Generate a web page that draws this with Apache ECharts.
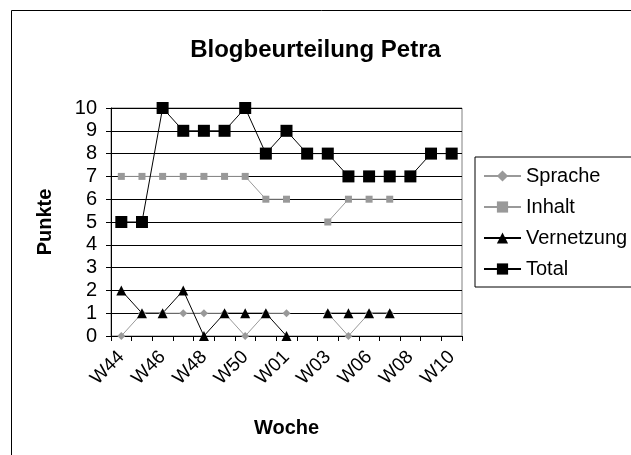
<!DOCTYPE html>
<html>
<head>
<meta charset="utf-8">
<script src="https://cdn.jsdelivr.net/npm/echarts@6/dist/echarts.min.js"></script>
<style>
html,body{margin:0;padding:0;background:#fff;}
#main{width:631px;height:455px;}
</style>
</head>
<body>
<div id="main"></div>
<script>
var weeks = ['W44','W45','W46','W47','W48','W49','W50','W52','W01','W02','W03','W04','W06','W07','W08','W09','W10'];
var sprache = [0, 1, 1, 1, 1, 1, 0, 1, 1, null, 1, 0, 1, 1, null, null, null];
var inhalt = [7, 7, 7, 7, 7, 7, 7, 6, 6, null, 5, 6, 6, 6, null, null, null];
var vernetzung = [2, 1, 1, 2, 0, 1, 1, 1, 0, null, 1, 1, 1, 1, null, null, null];
var total = [5, 5, 10, 9, 9, 9, 10, 8, 9, 8, 8, 7, 7, 7, 7, 8, 8];

window.onload = function () {
    var chart = echarts.init(document.getElementById('main'));
    var font = 'Liberation Sans, Arial, sans-serif';
    chart.setOption({
        animation: false,
        textStyle: { fontFamily: font },
        title: {
            text: 'Blogbeurteilung Petra',
            left: 'center',
            top: 33,
            textStyle: { fontSize: 24, fontWeight: 'bold', color: '#000', fontFamily: font }
        },
        graphic: [{
            type: 'rect',
            shape: { x: 11.5, y: 10.5, width: 640, height: 460 },
            style: { fill: 'none', stroke: '#000', lineWidth: 1 },
            silent: true
        }],
        grid: {
            left: 111, right: 169, top: 108, bottom: 119,
            show: true, borderColor: '#808080', borderWidth: 1
        },
        legend: {
            orient: 'vertical',
            left: 475, top: 157,
            width: 156,
            padding: [9, 40, 8, 8],
            borderColor: '#000', borderWidth: 1,
            itemWidth: 37, itemHeight: 14, itemGap: 11,
            textStyle: { fontSize: 20, color: '#000', fontFamily: font },
            data: ['Sprache', 'Inhalt', 'Vernetzung', 'Total']
        },
        xAxis: {
            type: 'category',
            data: weeks,
            boundaryGap: true,
            name: 'Woche',
            nameLocation: 'middle',
            nameGap: 82,
            nameTextStyle: { fontSize: 20, fontWeight: 'bold', color: '#000', fontFamily: font },
            axisLine: { lineStyle: { color: '#000' } },
            axisTick: { show: true, interval: 0, length: 5, lineStyle: { color: '#000' } },
            axisLabel: { interval: 1, rotate: 45, fontSize: 19, color: '#000', margin: 18, fontFamily: font },
            splitLine: { show: false }
        },
        yAxis: {
            type: 'value',
            min: 0, max: 10, interval: 1,
            name: 'Punkte',
            nameLocation: 'middle',
            nameGap: 56,
            nameTextStyle: { fontSize: 20, fontWeight: 'bold', color: '#000', fontFamily: font },
            axisLine: { show: true, lineStyle: { color: '#000' } },
            axisTick: { show: true, length: 5, lineStyle: { color: '#000' } },
            axisLabel: { fontSize: 20, color: '#000', margin: 14, fontFamily: font },
            splitLine: { show: true, lineStyle: { color: '#000', width: 1 } }
        },
        series: [
            {
                name: 'Sprache', type: 'line', data: sprache,
                symbol: 'diamond', symbolSize: 8, showAllSymbol: true,
                itemStyle: { color: '#999999' },
                lineStyle: { color: '#999999', width: 1 }
            },
            {
                name: 'Inhalt', type: 'line', data: inhalt,
                symbol: 'rect', symbolSize: 7, showAllSymbol: true,
                itemStyle: { color: '#999999' },
                lineStyle: { color: '#999999', width: 1 }
            },
            {
                name: 'Vernetzung', type: 'line', data: vernetzung,
                symbol: 'triangle', symbolSize: 10, showAllSymbol: true,
                itemStyle: { color: '#000' },
                lineStyle: { color: '#000', width: 1 }
            },
            {
                name: 'Total', type: 'line', data: total,
                symbol: 'rect', symbolSize: 12, showAllSymbol: true,
                itemStyle: { color: '#000' },
                lineStyle: { color: '#000', width: 1 }
            }
        ]
    });
};
</script>
</body>
</html>
